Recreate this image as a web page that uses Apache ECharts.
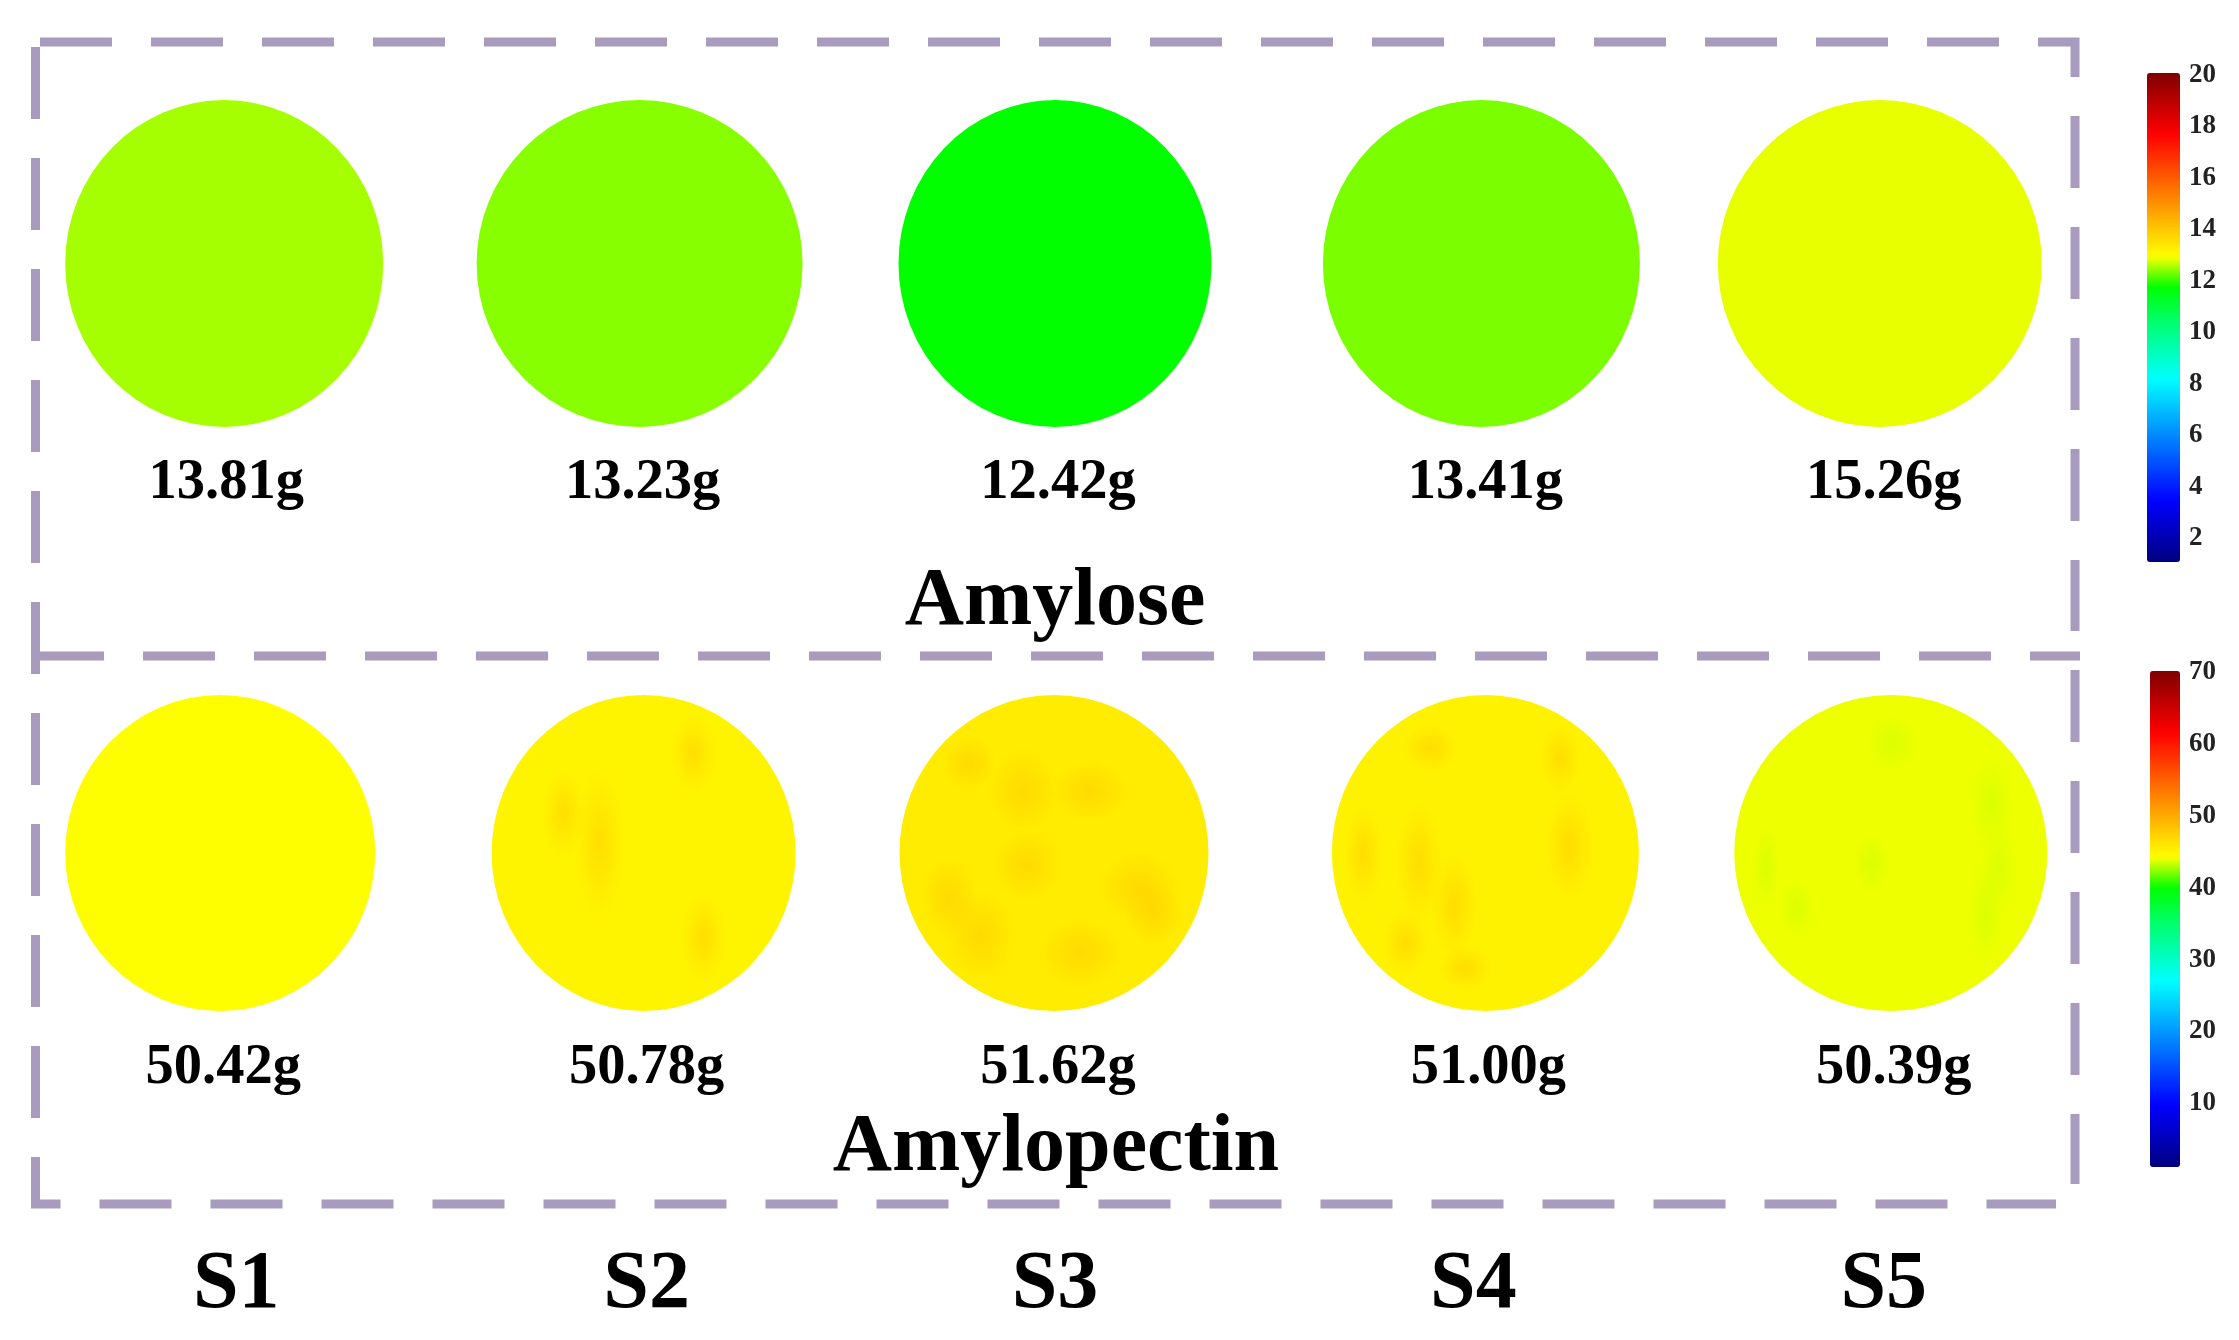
<!DOCTYPE html>
<html>
<head>
<meta charset="utf-8">
<style>html,body{margin:0;padding:0;background:#fff}#c{width:2239px;height:1340px}</style>
<script src="https://cdn.jsdelivr.net/npm/echarts@6/dist/echarts.min.js"></script>
</head>
<body>
<div id="c"></div>
<script>
// ---- data ----
const samples = ['S1', 'S2', 'S3', 'S4', 'S5'];
const amyloseMass = ['13.81g', '13.23g', '12.42g', '13.41g', '15.26g'];
const amylopectinMass = ['50.42g', '50.78g', '51.62g', '51.00g', '50.39g'];
// mean colour of each disc read back through its colour bar
const amyloseColourValue = [12.46, 12.32, 11.69, 12.26, 12.77];
const amylopectinColourValue = [44.2, 44.9, 45.4, 45.0, 43.84];
const amyloseTicks = [2, 4, 6, 8, 10, 12, 14, 16, 18, 20];
const amylopectinTicks = [10, 20, 30, 40, 50, 60, 70];

// ---- layout and style, kept apart from the data ----
const serif = '"Liberation Serif", serif';
const ramp = ['#00007f','#0000c0','#0000ff','#0040ff','#0080ff','#00c0ff','#00ffff','#00ffb0','#00ff60',
              '#00ff00','#ffff00','#ffc000','#ff8000','#ff4000','#ff0000','#c00000','#7f0000'];
const frameColour = '#a99bbd';
const layout = {
  amylose: { size: [[318,327],[326,327],[313,327],[317,327],[324,327]], dx: [-1,0,1,13,-3],
             labelDx: [1,3,4,17,1], labelDy: 220 },
  amylopectin: { size: [[310,316],[304,316],[309,316],[307,316],[313,316]], dx: [-5,4,0,17,8],
             labelDx: [-2,7,4,20,11], labelDy: 215 },
  sLabelDx: [11, 7, 1, 5, 1]
};
// soft surface mottling on the lower discs: [sample index, dx, dy, width, height] from the disc centre axis
const orangeMottle = [
  [1,-44,-10,50,150],[1,60,85,46,90],[1,50,-100,46,80],[1,-80,-40,44,90],
  [2,-31,-62,70,84],[2,-27,12,70,70],[2,36,-62,78,62],[2,85,34,80,70],[2,100,60,60,66],
  [2,-74,82,70,90],[2,-105,45,56,84],[2,26,100,84,70],[2,-85,-90,56,56],
  [3,-122,1,40,100],[3,-55,-105,56,50],[3,-66,10,48,126],[3,-31,53,48,110],[3,-80,90,46,66],
  [3,84,-7,50,110],[3,-20,115,56,44],[3,75,-95,42,70]
];
const greenMottle = [
  [4,1,-110,50,56],[4,100,-50,42,96],[4,-125,14,26,84],[4,-19,10,36,56],[4,-94,55,36,56],
  [4,108,14,36,84],[4,95,60,34,96]
];

function discs(values, mass, lay, gridIndex) {
  return {
    type: 'scatter', xAxisIndex: gridIndex, yAxisIndex: gridIndex, silent: true, animation: false,
    clip: false, symbol: 'circle', itemStyle: { opacity: 1 }, z: 2,
    data: values.map((v, i) => ({
      value: [i, 0, v, mass[i]],
      symbolSize: lay.size[i],
      symbolOffset: [lay.dx[i], 0],
      label: {
        show: true, position: 'inside', formatter: mass[i], opacity: 1,
        offset: [lay.labelDx[i] - lay.dx[i], lay.labelDy],
        fontFamily: serif, fontWeight: 'bold', fontSize: 56.5, color: '#000'
      }
    }))
  };
}
function mottle(list, rgb, gridIndex, dxs) {
  return {
    type: 'scatter', xAxisIndex: gridIndex, yAxisIndex: gridIndex, silent: true, animation: false,
    clip: false, symbol: 'circle', z: 3,
    itemStyle: { opacity: 1, color: { type: 'radial', x: .5, y: .5, r: .5,
      colorStops: [{ offset: 0, color: `rgba(${rgb},.4)` }, { offset: 1, color: `rgba(${rgb},0)` }] } },
    data: list.map(m => ({ value: [m[0], 0], symbolOffset: [dxs[m[0]] + m[1], m[2]], symbolSize: [m[3], m[4]] }))
  };
}
function barGrid(top, height) { return { left: 2147, width: 33, top, height, containLabel: false }; }
function hiddenX(i) { return { type: 'value', gridIndex: i, show: false, min: 0, max: 1 }; }
function tickAxis(i, max, ticks) {
  return {
    type: 'value', gridIndex: i, position: 'right', min: 1, max,
    axisLine: { show: false }, axisTick: { show: false }, splitLine: { show: false },
    axisLabel: { customValues: ticks, margin: 9, fontFamily: serif, fontWeight: 'bold', fontSize: 27, color: '#222' }
  };
}
function dashed(points) {
  return { type: 'polyline', silent: true, shape: { points },
    style: { fill: null, stroke: frameColour, lineWidth: 9, lineDash: [72, 39], lineCap: 'butt', lineJoin: 'miter' } };
}

const option = {
  backgroundColor: '#ffffff',
  animation: false,
  grid: [
    { left: 18, width: 2072, top: 0, height: 527 },
    { left: 18, width: 2072, top: 466, height: 774 },
    barGrid(75, 489),
    barGrid(672, 496)
  ],
  xAxis: [
    { type: 'category', gridIndex: 0, data: samples, show: false },
    { type: 'category', gridIndex: 1,
      data: samples.map((s, i) => ({ value: s, textStyle: { padding: [0, 0, 0, layout.sLabelDx[i] * 2] } })),
      axisLine: { show: false }, axisTick: { show: false },
      axisLabel: { interval: 0, margin: 5, fontFamily: serif, fontWeight: 'bold', fontSize: 82, color: '#000' } },
    hiddenX(2), hiddenX(3)
  ],
  yAxis: [
    { type: 'category', gridIndex: 0, data: ['Amylose'], show: false },
    { type: 'category', gridIndex: 1, data: ['Amylopectin'], show: false },
    tickAxis(2, 20, amyloseTicks),
    tickAxis(3, 70, amylopectinTicks)
  ],
  visualMap: [
    { type: 'continuous', seriesIndex: 0, dimension: 2, min: 1, max: 20, left: 2147, top: 73, padding: 0,
      itemWidth: 33, itemHeight: 489, calculable: false, realtime: false, hoverLink: false, text: null,
      inRange: { color: ramp } },
    { type: 'continuous', seriesIndex: 1, dimension: 2, min: 1, max: 70, left: 2150, top: 671, padding: 0,
      itemWidth: 30, itemHeight: 496, calculable: false, realtime: false, hoverLink: false, text: null,
      inRange: { color: ramp } }
  ],
  title: [
    { text: 'Amylose', left: 1055, top: 562, textAlign: 'center', padding: 0,
      textStyle: { fontFamily: serif, fontWeight: 'bold', fontSize: 82, color: '#000' } },
    { text: 'Amylopectin', left: 1056, top: 1108, textAlign: 'center', padding: 0,
      textStyle: { fontFamily: serif, fontWeight: 'bold', fontSize: 82, color: '#000' } }
  ],
  series: [
    discs(amyloseColourValue, amyloseMass, layout.amylose, 0),
    discs(amylopectinColourValue, amylopectinMass, layout.amylopectin, 1),
    mottle(orangeMottle, '255,190,0', 1, layout.amylopectin.dx),
    mottle(greenMottle, '190,255,0', 1, layout.amylopectin.dx)
  ],
  graphic: [
    dashed([[40,42],[2075,42],[2075,631]]),
    dashed([[35.5,47],[35.5,1204],[2056,1204]]),
    dashed([[32,656],[2080,656]]),
    dashed([[2075,670],[2075,1184]])
  ]
};
echarts.init(document.getElementById('c'), null, { renderer: 'canvas' }).setOption(option);
</script>
</body>
</html>
